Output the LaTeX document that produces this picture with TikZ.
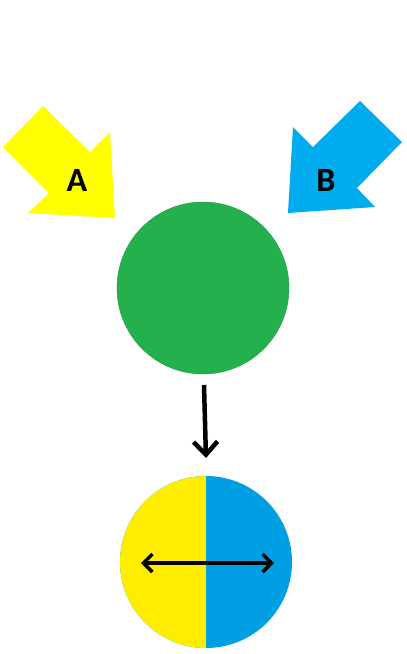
\documentclass[tikz,border=0pt]{standalone}
\usepackage{fontspec}
\setmainfont{Carlito}
\usetikzlibrary{arrows.meta}
\definecolor{yelA}{RGB}{255,255,0}
\definecolor{bluB}{RGB}{0,172,238}
\definecolor{grn}{RGB}{36,176,76}
\definecolor{yelM}{RGB}{255,237,0}
\definecolor{bluM}{RGB}{0,158,226}
\begin{document}
\begin{tikzpicture}[x=1pt,y=-1pt,
    ball/.style = {circle,minimum size=172pt,inner sep=0pt,outer sep=0pt},
    lbl/.style = {font=\fontsize{34}{34}\selectfont\bfseries,inner sep=0pt},
    flow/.style = {line width=4.5pt,-{Straight Barb[length=13pt,width=24pt,line width=4.5pt]}},
    swap/.style = {line width=3.5pt,{Straight Barb[length=9pt,width=18pt,line width=3.5pt]}-{Straight Barb[length=9pt,width=18pt,line width=3.5pt]}}]
\useasboundingbox (0,0) rectangle (407,654);
% incoming arrows
\fill[yelA] (43,106) -- (90,152) -- (110,132) -- (115,218) -- (28,213) -- (49,193) -- (3,147) -- cycle;
\fill[bluB] (360,101) -- (402,142) -- (357,188) -- (375,207) -- (288,213) -- (293,127) -- (313,147) -- cycle;
\node[lbl] (labA) at (77,180) {A};
\node[lbl] (labB) at (326,180) {B};
% circles
\node[ball,fill=grn,draw=grn!85!black,thin] (mixed) at (203,288) {};
\node[ball,fill=bluM,path picture={\fill[yelM] (path picture bounding box.north west) rectangle (path picture bounding box.south);}] (split) at (206,562) {};
\coordinate (lft) at (141,563);
\coordinate (rgt) at (274,563);
% connectors
\draw[flow] ([xshift=1pt,yshift=-11pt]mixed.south) -- ([yshift=18pt]split.north);
\draw[swap] (lft) -- (rgt);
\end{tikzpicture}
\end{document}
